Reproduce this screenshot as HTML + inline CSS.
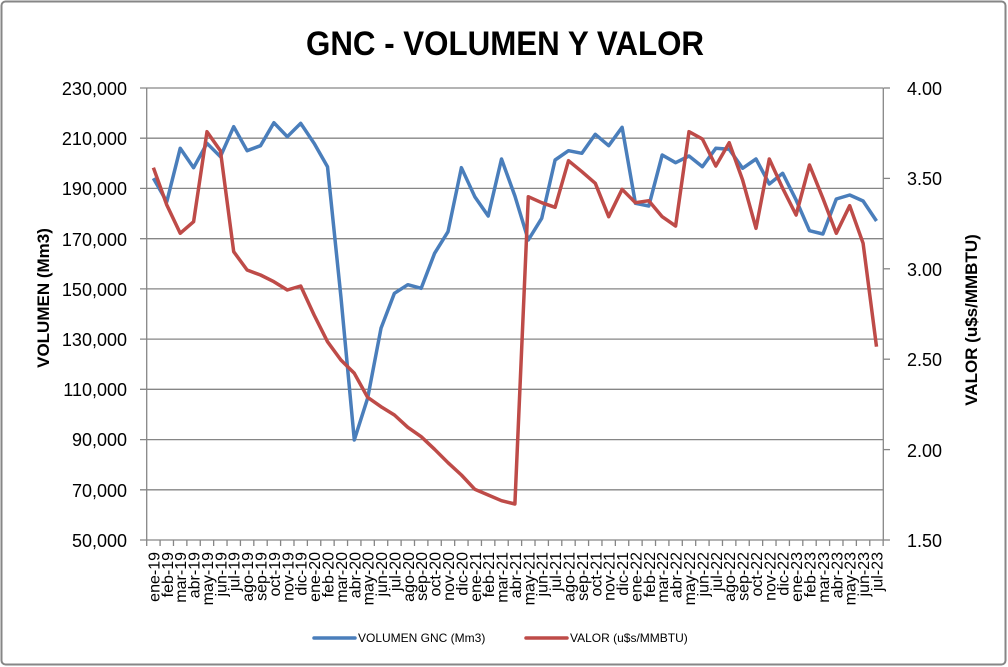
<!DOCTYPE html>
<html><head><meta charset="utf-8"><style>
html,body{margin:0;padding:0;background:#fff}
svg{display:block;font-family:"Liberation Sans",sans-serif}
</style></head><body>
<svg width="1008" height="667" viewBox="0 0 1008 667" xmlns="http://www.w3.org/2000/svg">
<rect x="1.5" y="1.5" width="1004" height="663" rx="4" fill="#fff" stroke="#868686" stroke-width="2"/>
<text x="306" y="55" font-size="34" font-weight="bold" textLength="398" lengthAdjust="spacingAndGlyphs">GNC - VOLUMEN Y VALOR</text>
<g stroke="#868686" stroke-width="1.3">
<line x1="140" y1="88" x2="883" y2="88"/>
<line x1="140" y1="138.2" x2="883" y2="138.2"/>
<line x1="140" y1="188.4" x2="883" y2="188.4"/>
<line x1="140" y1="238.7" x2="883" y2="238.7"/>
<line x1="140" y1="288.9" x2="883" y2="288.9"/>
<line x1="140" y1="339.1" x2="883" y2="339.1"/>
<line x1="140" y1="389.3" x2="883" y2="389.3"/>
<line x1="140" y1="439.6" x2="883" y2="439.6"/>
<line x1="140" y1="489.8" x2="883" y2="489.8"/>
<line x1="140" y1="540" x2="883" y2="540"/>
<line x1="146.7" y1="88" x2="146.7" y2="540"/>
<line x1="883.3" y1="88" x2="883.3" y2="540"/>
<line x1="883.3" y1="88" x2="890" y2="88"/>
<line x1="883.3" y1="178.4" x2="890" y2="178.4"/>
<line x1="883.3" y1="268.8" x2="890" y2="268.8"/>
<line x1="883.3" y1="359.2" x2="890" y2="359.2"/>
<line x1="883.3" y1="449.6" x2="890" y2="449.6"/>
<line x1="883.3" y1="540" x2="890" y2="540"/>
</g>
<g id="ticks" stroke="#868686" stroke-width="1.3"></g>
<g font-size="18" text-anchor="end" fill="#000">
<text x="127" y="95">230,000</text><text x="127" y="145">210,000</text><text x="127" y="195">190,000</text>
<text x="127" y="246">170,000</text><text x="127" y="296">150,000</text><text x="127" y="346">130,000</text>
<text x="127" y="396">110,000</text><text x="127" y="446">90,000</text><text x="127" y="497">70,000</text>
<text x="127" y="547">50,000</text>
</g>
<g font-size="18" fill="#000">
<text x="907" y="95">4.00</text><text x="907" y="185">3.50</text><text x="907" y="276">3.00</text>
<text x="907" y="366">2.50</text><text x="907" y="457">2.00</text><text x="907" y="547">1.50</text>
</g>
<text transform="translate(49,298) rotate(-90)" text-anchor="middle" font-size="17" font-weight="bold">VOLUMEN (Mm3)</text>
<text transform="translate(977,320) rotate(-90)" text-anchor="middle" font-size="17" font-weight="bold">VALOR (u$s/MMBTU)</text>
<g id="xl" font-size="16" text-anchor="end"></g>
<polyline fill="none" stroke="#4a7ebb" stroke-width="3.5" stroke-linejoin="round" points="153.4,178.3 166.8,201.7 180.2,148.3 193.6,167.7 207,143.3 220.4,156.7 233.7,126.7 247.1,150.7 260.5,145.7 273.9,122.7 287.3,136.7 300.7,123.3 314.1,143.3 327.5,166.7 340.9,296.7 354.3,440 367.6,398.3 381,328.3 394.4,293.3 407.8,284.7 421.2,288.3 434.6,253.3 448,231.7 461.4,167.7 474.8,196.7 488.2,216 501.5,159 514.9,196 528.3,240 541.7,218.3 555.1,160 568.5,150.7 581.9,153.3 595.3,134.3 608.7,145.7 622.1,127.3 635.4,203.3 648.8,206 662.2,155 675.6,162.7 689,156 702.4,166.7 715.8,148.3 729.2,149.3 742.6,168.3 756,159 769.3,184 782.7,173.3 796.1,200 809.5,230.7 822.9,234 836.3,199 849.7,195 863.1,201 876.5,221"/>
<polyline fill="none" stroke="#be4b48" stroke-width="3.5" stroke-linejoin="round" points="153.4,167.7 166.8,205 180.2,233.3 193.6,221.7 207,131.7 220.4,150.7 233.7,251.7 247.1,270 260.5,275 273.9,281.7 287.3,290 300.7,286 314.1,315 327.5,341.7 340.9,360 354.3,373.3 367.6,397.3 381,406.7 394.4,415 407.8,427.3 421.2,436.7 434.6,449.3 448,462.7 461.4,475 474.8,489.3 488.2,495 501.5,500.7 514.9,504 528.3,196.7 541.7,202.7 555.1,207.3 568.5,160.7 581.9,171.7 595.3,183.3 608.7,216.7 622.1,189.3 635.4,202.7 648.8,200.7 662.2,216.7 675.6,226 689,131.7 702.4,139 715.8,166 729.2,142.7 742.6,180 756,228.3 769.3,159 782.7,188.3 796.1,215 809.5,165 822.9,198.3 836.3,233.3 849.7,205.7 863.1,243.3 876.5,346.7"/>
<line x1="314" y1="638" x2="355" y2="638" stroke="#4a7ebb" stroke-width="3.5" stroke-linecap="round"/>
<text x="358" y="642" font-size="12">VOLUMEN GNC (Mm3)</text>
<line x1="526" y1="638" x2="567" y2="638" stroke="#be4b48" stroke-width="3.5" stroke-linecap="round"/>
<text x="570" y="642" font-size="12">VALOR (u$s/MMBTU)</text>
<script>
var m=["ene","feb","mar","abr","may","jun","jul","ago","sep","oct","nov","dic"];
var t=document.getElementById("ticks"),xl=document.getElementById("xl"),ns="http://www.w3.org/2000/svg";
for(var i=0;i<=55;i++){var x=146.7+13.39*i;var l=document.createElementNS(ns,"line");l.setAttribute("x1",x);l.setAttribute("x2",x);l.setAttribute("y1",540);l.setAttribute("y2",546);t.appendChild(l);}
for(var i=0;i<55;i++){var x=153.4+13.39*i+6;var y=19+Math.floor(i/12);var s=document.createElementNS(ns,"text");s.setAttribute("transform","translate("+x+",552) rotate(-90)");s.textContent=m[i%12]+"-"+y;xl.appendChild(s);}
</script>
</svg>
</body></html>
